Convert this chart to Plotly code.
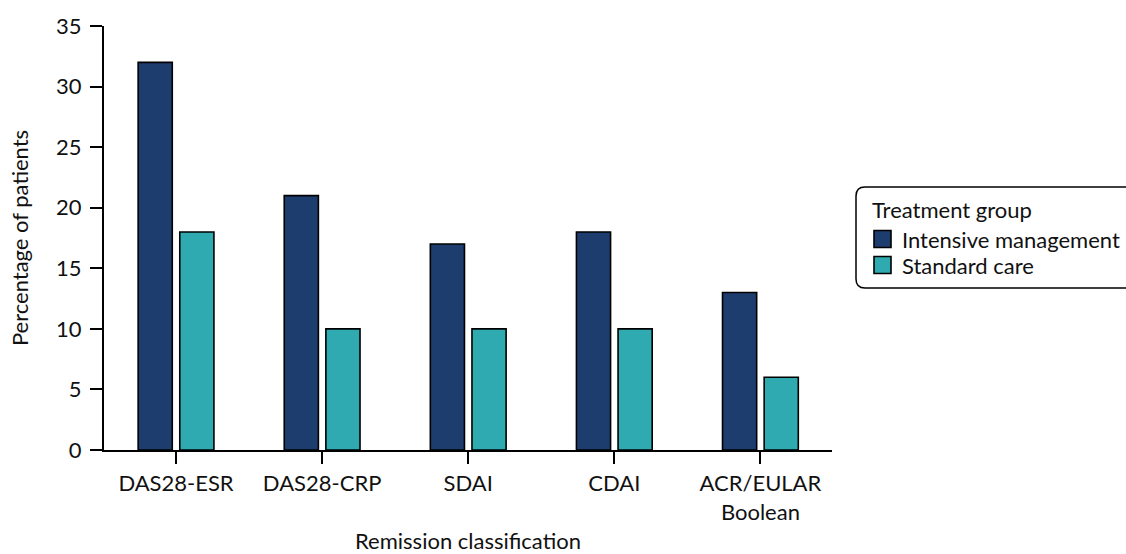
import plotly.graph_objects as go

categories = ["DAS28-ESR", "DAS28-CRP", "SDAI", "CDAI", "ACR/EULAR<br>Boolean"]
intensive = [32, 21, 17, 18, 13]
standard = [18, 10, 10, 10, 6]
y_ticks = [0, 5, 10, 15, 20, 25, 30, 35]
series_names = ["Intensive management", "Standard care"]
series_colors = ["#1c3d6e", "#2eaab0"]
legend_title = "Treatment group"

W, H = 1126, 554
ML, MR, MT, MB = 104, 294, 26, 104
PW, PH = W - ML - MR, H - MT - MB

def px_x(xv):
    return (xv - ML) / PW

def px_y(yv):
    return (H - MB - yv) / PH

FONT = "Lato, 'Open Sans', sans-serif"
FS = 22

fig = go.Figure()
for name, vals, col in zip(series_names, [intensive, standard], series_colors):
    fig.add_trace(go.Bar(x=categories, y=vals, name=name,
                         marker=dict(color=col, line=dict(color="#000000", width=1.6))))

# rounded legend frame (drawn by hand)
x0, x1, y0, y1, r = 856, 1140, 187, 288, 9
path = (f"M {px_x(x0+r)},{px_y(y0)} L {px_x(x1-r)},{px_y(y0)} "
        f"Q {px_x(x1)},{px_y(y0)} {px_x(x1)},{px_y(y0+r)} "
        f"L {px_x(x1)},{px_y(y1-r)} Q {px_x(x1)},{px_y(y1)} {px_x(x1-r)},{px_y(y1)} "
        f"L {px_x(x0+r)},{px_y(y1)} Q {px_x(x0)},{px_y(y1)} {px_x(x0)},{px_y(y1-r)} "
        f"L {px_x(x0)},{px_y(y0+r)} Q {px_x(x0)},{px_y(y0)} {px_x(x0+r)},{px_y(y0)} Z")
fig.add_shape(type="path", path=path, xref="paper", yref="paper",
              line=dict(color="#000000", width=1.5), fillcolor="rgba(0,0,0,0)")

fig.add_annotation(text=legend_title, x=px_x(870), y=px_y(209), xref="paper", yref="paper",
                   xanchor="left", yanchor="middle", showarrow=False,
                   font=dict(size=FS, family=FONT, color="#111111"))
row_y = [239, 265]
for name, col, yc in zip(series_names, series_colors, row_y):
    fig.add_shape(type="rect", xref="paper", yref="paper",
                  x0=px_x(874), x1=px_x(891), y0=px_y(yc - 8.5), y1=px_y(yc + 8.5),
                  fillcolor=col, line=dict(color="#000000", width=1.6))
    fig.add_annotation(text=name, x=px_x(900), y=px_y(yc), xref="paper", yref="paper",
                       xanchor="left", yanchor="middle", showarrow=False,
                       font=dict(size=FS, family=FONT, color="#111111"))

fig.update_layout(
    width=W, height=H,
    margin=dict(l=ML, r=MR, t=MT, b=MB, autoexpand=False),
    paper_bgcolor="white", plot_bgcolor="white",
    font=dict(family=FONT, size=FS, color="#111111"),
    barmode="group", bargap=0.43, bargroupgap=0.18,
    showlegend=False,
    xaxis=dict(range=[-0.493, 4.49], showline=True, linecolor="#000000", linewidth=2,
               ticks="outside", ticklen=12, tickwidth=2, tickcolor="#000000",
               ticklabelstandoff=1,
               showgrid=False, zeroline=False, automargin=False,
               title=dict(text="Remission classification", standoff=12,
                          font=dict(size=FS))),
    yaxis=dict(range=[0, 35], tickvals=y_ticks, showline=True, linecolor="#000000",
               linewidth=2, ticks="outside", ticklen=12, tickwidth=2,
               tickcolor="#000000", ticklabelstandoff=4,
               showgrid=False, zeroline=False, automargin=False,
               title=dict(text="Percentage of patients", standoff=21,
                          font=dict(size=FS))),
)

fig.write_html("out.html", config={"displayModeBar": False},
               post_script="document.body.style.margin='0';document.body.style.overflow='hidden';")
